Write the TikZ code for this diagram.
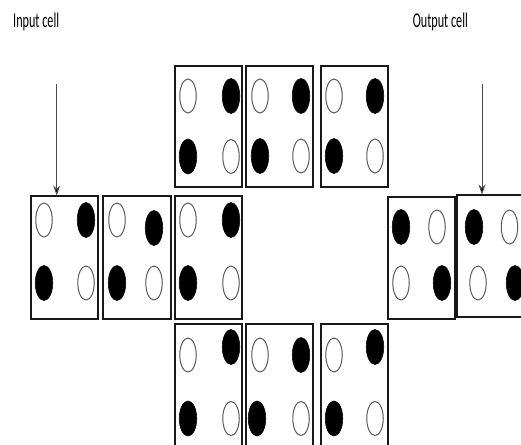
\documentclass[tikz,border=0pt]{standalone}
\usepackage{fontspec}
\setmainfont{Carlito}
\usetikzlibrary{shapes.geometric,arrows.meta}
\newcommand\mkcell[5]{\node[cellbox, minimum width={#4-#2}, minimum height={#5-#3}] (#1) at ({(#2+#4)/2},{(#3+#5)/2}) {};}
\begin{document}
\begin{tikzpicture}[x=1pt,y=-1pt,
  cellbox/.style={draw=black!90, line width=1.1pt, inner sep=0pt, rectangle},
  opendot/.style={ellipse, draw=black!65, line width=1pt, fill=white, minimum width=16.5pt, minimum height=34pt, inner sep=0pt},
  filldot/.style={ellipse, fill=black, draw=black, line width=0.6pt, minimum width=17.5pt, minimum height=35pt, inner sep=0pt},
  lbl/.style={anchor=base west, inner sep=0pt, font=\fontsize{21}{21}\selectfont},
  feed/.style={draw=black!70, line width=0.9pt, -{Stealth[length=10pt,width=7pt,fill=black]}}]
\useasboundingbox (0,0) rectangle (521,444);
\clip (0,0) rectangle (521,444);
% labels
\node[lbl] (inlbl) at (13,28) {\scalebox{0.58}[1]{Input cell}};
\node[lbl] (outlbl) at (412.7,28) {\scalebox{0.58}[1]{Output cell}};
% top row
\mkcell{T1}{175}{66}{242}{187}
\mkcell{T2}{246}{66}{313}{187}
\mkcell{T3}{321}{66}{388}{187}
% middle row
\mkcell{M1}{31}{196}{98}{319}
\mkcell{M2}{103}{196}{171}{319}
\mkcell{M3}{175}{196}{242}{319}
\mkcell{M4}{388}{197}{455}{319}
\mkcell{M5}{457}{195}{524}{317}
% bottom row
\mkcell{B1}{175}{324}{242}{448}
\mkcell{B2}{246}{324}{313}{448}
\mkcell{B3}{321}{324}{388}{448}
% dots top row
\node[opendot] (T1a) at (188,96) {};
\node[filldot] (T1b) at (231,96) {};
\node[filldot] (T1c) at (188,156.5) {};
\node[opendot] (T1d) at (231,156.5) {};
\node[opendot] (T2a) at (260,96) {};
\node[filldot] (T2b) at (301,96) {};
\node[filldot] (T2c) at (260,156) {};
\node[opendot] (T2d) at (301,156) {};
\node[opendot] (T3a) at (334,96) {};
\node[filldot] (T3b) at (375,96) {};
\node[filldot] (T3c) at (334,156) {};
\node[opendot] (T3d) at (375,156) {};
% dots middle row
\node[opendot] (M1a) at (44,220) {};
\node[filldot] (M1b) at (86,220) {};
\node[filldot] (M1c) at (44,283) {};
\node[opendot] (M1d) at (86,283) {};
\node[opendot] (M2a) at (117,220) {};
\node[filldot] (M2b) at (154,228) {};
\node[filldot] (M2c) at (117,283) {};
\node[opendot] (M2d) at (154,283) {};
\node[opendot] (M3a) at (188,220) {};
\node[filldot] (M3b) at (231,220) {};
\node[filldot] (M3c) at (188,283) {};
\node[opendot] (M3d) at (231,283) {};
\node[filldot] (M4a) at (401,227) {};
\node[opendot] (M4b) at (437,227) {};
\node[opendot] (M4c) at (401,283) {};
\node[filldot] (M4d) at (442,283) {};
\node[filldot] (M5a) at (474,227) {};
\node[opendot] (M5b) at (509.5,227) {};
\node[opendot] (M5c) at (478,283) {};
\node[filldot] (M5d) at (515,283) {};
% dots bottom row
\node[opendot] (B1a) at (188,355) {};
\node[filldot] (B1b) at (231,347) {};
\node[filldot] (B1c) at (188,418.5) {};
\node[opendot] (B1d) at (231,418.5) {};
\node[opendot] (B2a) at (260,355) {};
\node[filldot] (B2b) at (301,355) {};
\node[filldot] (B2c) at (257,418.5) {};
\node[opendot] (B2d) at (301,418.5) {};
\node[opendot] (B3a) at (334,355) {};
\node[filldot] (B3b) at (375,347) {};
\node[filldot] (B3c) at (334,418.5) {};
\node[opendot] (B3d) at (375,418.5) {};
% arrows
\coordinate (inTop) at (56.7,84);
\coordinate (outTop) at (482,84);
\draw[feed] (inTop) -- (inTop |- M1.north);
\draw[feed] (outTop) -- (outTop |- M5.north);
\end{tikzpicture}
\end{document}
